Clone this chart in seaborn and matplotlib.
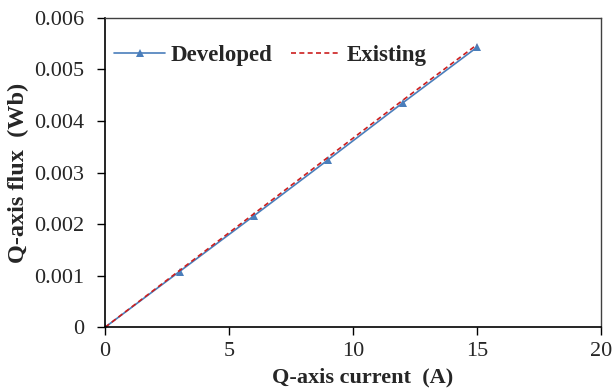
import matplotlib
matplotlib.use("Agg")
import matplotlib.pyplot as plt
import seaborn as sns
import pandas as pd

current = [0, 3, 6, 9, 12, 15]
developed = [0.0, 0.00108, 0.00216, 0.00325, 0.00435, 0.00543]
existing = [0.0, 0.00110, 0.00220, 0.00330, 0.00440, 0.00548]

sns.set_style("white")
plt.rcParams['font.family'] = ['Liberation Serif', 'DejaVu Serif']

fig = plt.figure(figsize=(6.15, 3.9), dpi=100)
ax = fig.add_axes([0.171, 0.161, 0.806, 0.793])

df_dev = pd.DataFrame({"x": current, "y": developed})
df_ex = pd.DataFrame({"x": current, "y": existing})

sns.lineplot(data=df_dev, x="x", y="y", ax=ax, color="#4a7ebb", lw=1.2,
             marker="^", markersize=6, markeredgewidth=0, label="Developed")
sns.lineplot(data=df_ex, x="x", y="y", ax=ax, color="#cc1f1f", lw=1.2,
             linestyle=(0, (3, 2)), label="Existing")

ax.set_xlim(0, 20)
ax.set_ylim(0, 0.006)
ax.set_xticks([0, 5, 10, 15, 20])
ax.set_yticks([0, 0.001, 0.002, 0.003, 0.004, 0.005, 0.006])
ax.set_yticklabels(["0", "0.001", "0.002", "0.003", "0.004", "0.005", "0.006"])
ax.tick_params(axis='both', direction='out', length=5.8, width=1, labelsize=16,
               bottom=True, left=True, color='black')
ax.tick_params(axis='x', pad=5)
ax.tick_params(axis='y', pad=9)
for s in ["left", "bottom"]:
    ax.spines[s].set_color("black")
    ax.spines[s].set_linewidth(1.2)
for s in ["top", "right"]:
    ax.spines[s].set_color("#404040")
    ax.spines[s].set_linewidth(1.0)

ax.set_xlabel("Q-axis current  (A)", fontsize=16, fontweight='bold', labelpad=-1)
ax.xaxis.set_label_coords(0.52, -0.13)
ax.set_ylabel("Q-axis flux  (Wb)", fontsize=17.5, fontweight='bold', labelpad=4)

leg = ax.legend(loc="upper left", bbox_to_anchor=(0.0, 0.942), ncol=2, frameon=False,
                prop={'weight': 'bold', 'size': 16.5}, handlelength=2.2,
                columnspacing=0.8, handletextpad=0.25, borderaxespad=0.0)

fig.savefig("out.png", dpi=100)
